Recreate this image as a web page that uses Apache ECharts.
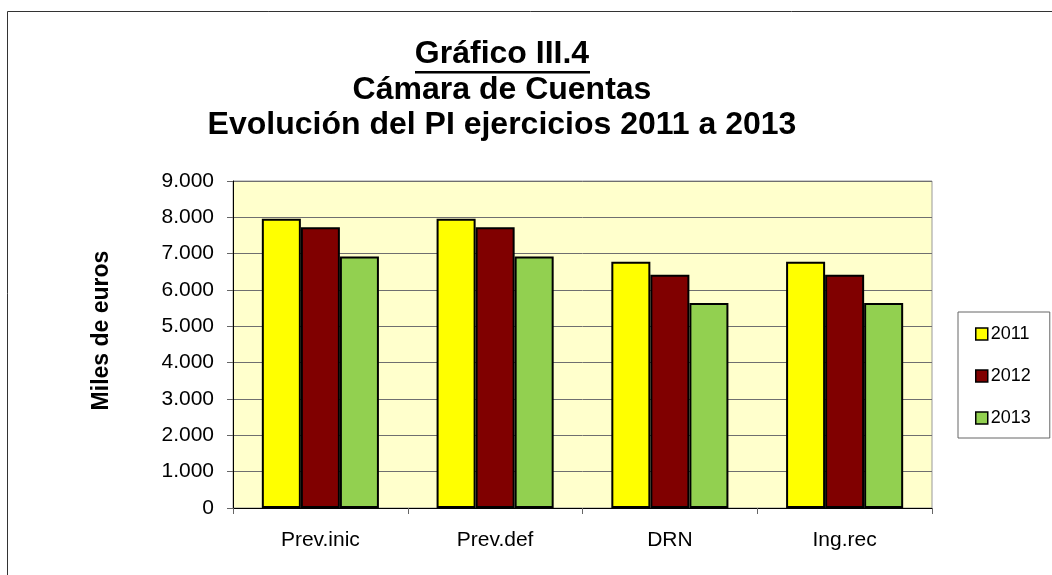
<!DOCTYPE html>
<html>
<head>
<meta charset="utf-8">
<title>Gráfico III.4</title>
<script src="https://cdn.jsdelivr.net/npm/echarts@6/dist/echarts.min.js"></script>
<style>
  html, body { margin: 0; padding: 0; background: #fff; }
  #chart { width: 1052px; height: 575px; }
</style>
</head>
<body>
<div id="chart"></div>
<script>
// datos del gráfico
var categories = ["Prev.inic", "Prev.def", "DRN", "Ing.rec"];
var years = ["2011", "2012", "2013"];
var values2011 = [7960, 7960, 6780, 6780];
var values2012 = [7730, 7730, 6420, 6420];
var values2013 = [6920, 6920, 5640, 5640];
var yTicks = { min: 0, max: 9000, interval: 1000 };

var colors = ["#FFFF00", "#800000", "#92D050"];
var font = "Liberation Sans, Arial, sans-serif";

// 9000 -> "9.000"
function miles(v) {
  return String(v).replace(/\B(?=(\d{3})+(?!\d))/g, ".");
}

var chart = echarts.init(document.getElementById("chart"));

var option = {
  animation: false,
  textStyle: { fontFamily: font },
  title: [
    { text: "Gráfico III.4", top: 38 },
    { text: "Cámara de Cuentas", top: 74 },
    { text: "Evolución del PI ejercicios 2011 a 2013", top: 109 }
  ].map(function (t) {
    return {
      text: t.text,
      left: 502,
      textAlign: "center",
      top: t.top,
      padding: 0,
      textStyle: { fontFamily: font, fontSize: 32, fontWeight: "bold", color: "#000", lineHeight: 32 }
    };
  }),
  graphic: [
    // marco exterior
    {
      type: "rect",
      silent: true,
      shape: { x: 7.5, y: 11.5, width: 1100, height: 600 },
      style: { fill: "none", stroke: "#333", lineWidth: 1 }
    },
    // subrayado del título
    {
      type: "rect",
      silent: true,
      shape: { x: 415, y: 71, width: 175, height: 2.5 },
      style: { fill: "#000" }
    }
  ],
  legend: {
    orient: "vertical",
    left: 958,
    top: 312,
    padding: [12, 19, 10, 17],
    itemGap: 22,
    itemWidth: 12,
    itemHeight: 12,
    icon: "rect",
    borderColor: "#666",
    borderWidth: 1,
    data: years,
    itemStyle: { borderColor: "#000", borderWidth: 1.5 },
    textStyle: { fontFamily: font, fontSize: 18, color: "#000", lineHeight: 20, padding: [0, 0, 0, -2] }
  },
  grid: {
    left: 233,
    right: 120,
    top: 181,
    bottom: 67,
    show: true,
    backgroundColor: "#FFFFCC",
    borderColor: "#999",
    borderWidth: 1
  },
  xAxis: {
    type: "category",
    data: categories,
    axisLine: { lineStyle: { color: "#000", width: 1 } },
    axisTick: { show: true, length: 6, lineStyle: { color: "#666" } },
    axisLabel: { fontFamily: font, fontSize: 21, color: "#000", margin: 22 }
  },
  yAxis: {
    type: "value",
    min: yTicks.min,
    max: yTicks.max,
    interval: yTicks.interval,
    name: "Miles de euros",
    nameLocation: "middle",
    nameGap: 120,
    nameTextStyle: { fontFamily: font, fontSize: 23, fontWeight: "bold", color: "#000", padding: [0, 0, 0, 28] },
    axisLine: { show: true, lineStyle: { color: "#000", width: 1 } },
    axisTick: { show: true, length: 6, lineStyle: { color: "#666" } },
    axisLabel: { fontFamily: font, fontSize: 21, color: "#000", margin: 19, formatter: miles },
    splitLine: { lineStyle: { color: "#6f6f6f", width: 1 } }
  },
  series: [values2011, values2012, values2013].map(function (vals, i) {
    return {
      name: years[i],
      type: "bar",
      data: vals,
      barGap: "0%",
      barCategoryGap: "33%",
      itemStyle: { color: colors[i], borderColor: "#000", borderWidth: 2 }
    };
  })
};

chart.setOption(option);
</script>
</body>
</html>
